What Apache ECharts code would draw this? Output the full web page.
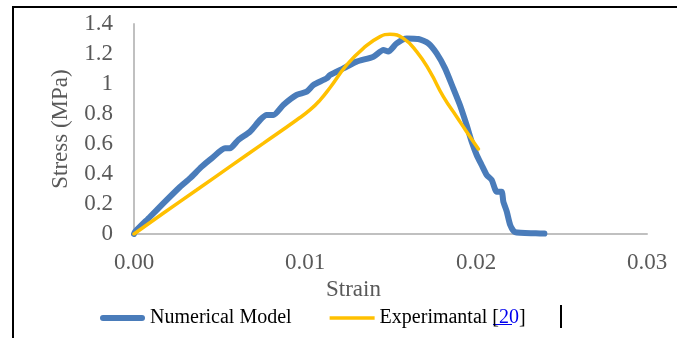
<!DOCTYPE html>
<html>
<head>
<meta charset="utf-8">
<script src="https://cdn.jsdelivr.net/npm/echarts@6/dist/echarts.min.js"></script>
<style>
  html, body { margin: 0; padding: 0; background: #fff; }
  #main { width: 677px; height: 338px; }
</style>
</head>
<body>
<div id="main"></div>
<script>
// Numerical Model (blue)
const numStrain = [0, 0.00006, 0.00094, 0.00171, 0.0027, 0.00327, 0.00396, 0.00454, 0.00532, 0.00561, 0.0061,
  0.00678, 0.00737, 0.00776, 0.00815, 0.00873, 0.00951, 0.0101, 0.01049, 0.01127, 0.01146, 0.01224, 0.01302,
  0.014, 0.01458, 0.01487, 0.01536, 0.01595, 0.01663, 0.01721, 0.0177, 0.01819, 0.01867, 0.01906, 0.01945,
  0.01975, 0.02004, 0.02033, 0.02063, 0.02092, 0.02121, 0.0215, 0.0216, 0.0218, 0.022, 0.02228, 0.0235, 0.0240];
const numStress = [0, 0.015, 0.115, 0.204, 0.315, 0.371, 0.449, 0.504, 0.571, 0.571, 0.627,
  0.682, 0.76, 0.793, 0.793, 0.86, 0.927, 0.949, 0.993, 1.038, 1.06, 1.104, 1.149,
  1.182, 1.227, 1.216, 1.271, 1.304, 1.30, 1.271, 1.204, 1.104, 0.971, 0.86, 0.727,
  0.615, 0.527, 0.46, 0.393, 0.36, 0.282, 0.282, 0.215, 0.149, 0.06, 0.012, 0.005, 0.003];

// Experimantal [20] (yellow)
const expStrain = [0, 0.00171, 0.00366, 0.00561, 0.00756, 0.00951, 0.01029, 0.01088, 0.01146, 0.01244, 0.01341,
  0.01439, 0.01497, 0.01575, 0.01653, 0.01731, 0.01809, 0.01887, 0.01945, 0.02014];
const expStress = [0, 0.138, 0.293, 0.449, 0.604, 0.76, 0.827, 0.893, 0.975, 1.127, 1.238,
  1.316, 1.331, 1.304, 1.216, 1.082, 0.916, 0.782, 0.682, 0.567];

const seriesNames = ['Numerical Model', 'Experimantal [20]'];
const xTicks = [0, 0.03, 0.01];   // min, max, interval
const yTicks = [0, 1.4, 0.2];

const font = 'Liberation Serif';
const labelColor = '#595959';
const blue = '#4a7cba';
const yellow = '#ffc000';

const chart = echarts.init(document.getElementById('main'));

chart.setOption({
  animation: false,
  grid: { left: 134, right: 30, top: 24, bottom: 104 },
  xAxis: {
    type: 'value',
    min: xTicks[0], max: xTicks[1], interval: xTicks[2],
    name: 'Strain',
    nameLocation: 'middle',
    nameGap: 33,
    nameTextStyle: { fontFamily: font, fontSize: 23, color: labelColor, padding: [0, 74, 0, 0] },
    axisLine: { lineStyle: { color: '#c0c0c0', width: 2 } },
    axisTick: { show: false },
    splitLine: { show: false },
    axisLabel: {
      margin: 17, fontFamily: font, fontSize: 23, color: labelColor,
      formatter: v => v.toFixed(2)
    }
  },
  yAxis: {
    type: 'value',
    min: yTicks[0], max: yTicks[1], interval: yTicks[2],
    name: 'Stress (MPa)',
    nameLocation: 'middle',
    nameGap: 62,
    nameTextStyle: { fontFamily: font, fontSize: 23, color: labelColor },
    axisLine: { show: true, lineStyle: { color: '#c0c0c0', width: 2 } },
    axisTick: { show: false },
    splitLine: { show: false },
    axisLabel: { margin: 21, fontFamily: font, fontSize: 23, color: labelColor }
  },
  legend: {
    left: 95, top: 303,
    itemWidth: 45, itemHeight: 14, itemGap: 38,
    textStyle: {
      fontFamily: font, fontSize: 20, color: '#000',
      rich: { ref: { fontFamily: font, fontSize: 20, color: '#0000ee' } }
    },
    formatter: name => name === seriesNames[1] ? 'Experimantal [{ref|20}]' : name,
    data: [
      { name: seriesNames[0], icon: 'path://M3,0 L42,0 A3,3 0 0 1 42,6 L3,6 A3,3 0 0 1 3,0 Z', itemStyle: { color: blue } },
      { name: seriesNames[1], icon: 'path://M0,0 L45,0 L45,3.5 L0,3.5 Z', itemStyle: { color: yellow } }
    ]
  },
  series: [
    {
      name: seriesNames[0],
      type: 'line',
      data: numStrain.map((x, i) => [x, numStress[i]]),
      symbol: 'none',
      smooth: 0.2,
      lineStyle: { color: blue, width: 6, cap: 'round', join: 'round' },
      itemStyle: { color: blue }
    },
    {
      name: seriesNames[1],
      type: 'line',
      data: expStrain.map((x, i) => [x, expStress[i]]),
      symbol: 'none',
      smooth: true,
      lineStyle: { color: yellow, width: 3.5, cap: 'round' },
      itemStyle: { color: yellow }
    }
  ],
  graphic: [
    // frame fragments around the figure
    { type: 'line', shape: { x1: 12, y1: 7, x2: 677, y2: 7 }, style: { stroke: '#000', lineWidth: 2 } },
    { type: 'line', shape: { x1: 13, y1: 6, x2: 13, y2: 338 }, style: { stroke: '#000', lineWidth: 2 } },
    { type: 'line', shape: { x1: 561, y1: 305, x2: 561, y2: 328 }, style: { stroke: '#000', lineWidth: 2 } },
    // underline of the reference number in the legend
    { type: 'line', shape: { x1: 493, y1: 324.5, x2: 512, y2: 324.5 }, style: { stroke: '#0000ee', lineWidth: 1 } }
  ]
});
</script>
</body>
</html>
